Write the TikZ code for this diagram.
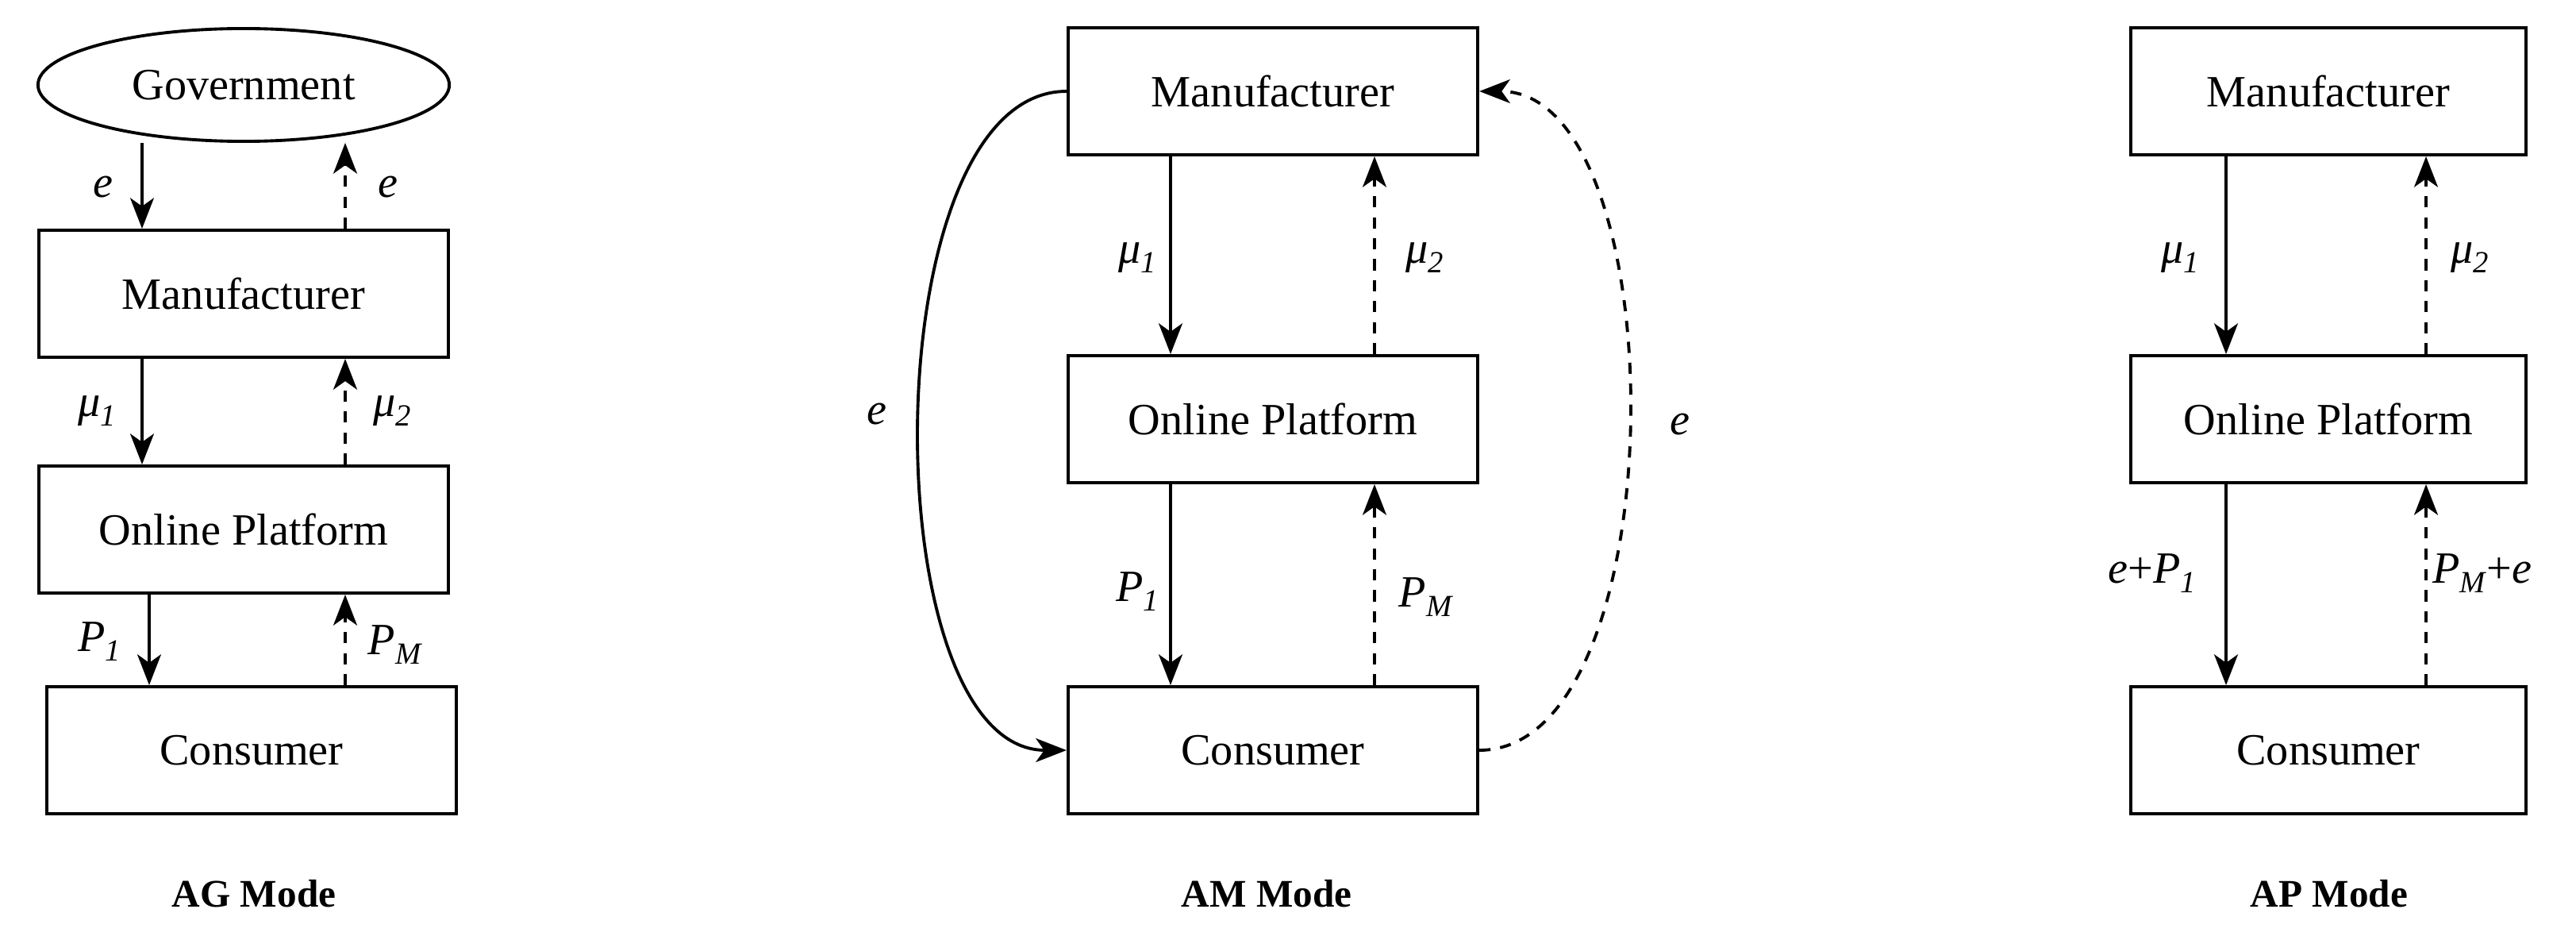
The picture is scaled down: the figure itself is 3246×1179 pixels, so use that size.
\documentclass[tikz,border=0pt]{standalone}
\usepackage{fontspec}
\setmainfont{Liberation Serif}
\usetikzlibrary{arrows.meta,shapes.geometric}
\newcommand{\lbl}[2]{\textit{#1}\raisebox{-0.45ex}{\fontsize{11}{11}\selectfont\textit{#2}}}
\begin{document}
\begin{tikzpicture}[x=0.01cm,y=-0.01cm,
  box/.style={draw,line width=1.1pt,minimum width=5.16cm,minimum height=1.6cm,inner sep=0pt,font=\fontsize{16}{18}\selectfont},
  ell/.style={draw,ellipse,line width=1.1pt,minimum width=5.18cm,minimum height=1.42cm,inner sep=0pt,font=\fontsize{16}{18}\selectfont},
  sol/.style={line width=1.1pt,-{Stealth[length=11pt,width=8.5pt,inset=3pt]}},
  dsh/.style={sol,dashed,dash pattern=on 4pt off 3.5pt},
  lab/.style={font=\fontsize{16}{18}\selectfont},
  ttl/.style={font=\fontsize{14}{16}\selectfont\bfseries}]
\useasboundingbox (0,0) rectangle (3246,1179);
% AG
\node[ell] (g) at (307,107) {Government};
\node[box] (m1) at (307,370) {Manufacturer};
\node[box] (o1) at (307,667) {Online Platform};
\node[box] (c1) at (317,945) {Consumer};
\draw[sol] (g.south -| 179,0) -- (m1.north -| 179,0);
\draw[dsh] (m1.north -| 435,0) -- (g.south -| 435,0);
\draw[sol] (m1.south -| 179,0) -- (o1.north -| 179,0);
\draw[dsh] (o1.north -| 435,0) -- (m1.south -| 435,0);
\draw[sol] (o1.south -| 188,0) -- (c1.north -| 188,0);
\draw[dsh] (c1.north -| 435,0) -- (o1.south -| 435,0);
\node[lab] (l1) at (130,236) {\textit{e}};
\node[lab] (l2) at (489,236) {\textit{e}};
\node[lab] (l3) at (122,518) {\lbl{μ}{1}};
\node[lab] (l4) at (494,518) {\lbl{μ}{2}};
\node[lab] (l5) at (125,808) {\lbl{P}{1}};
\node[lab] (l6) at (498,812) {\lbl{P}{M}};
\node[ttl] (t1) at (320,1126) {AG Mode};
% AM
\node[box] (m2) at (1604,115) {Manufacturer};
\node[box] (o2) at (1604,528) {Online Platform};
\node[box] (c2) at (1604,945) {Consumer};
\draw[sol] (m2.south -| 1475,0) -- (o2.north -| 1475,0);
\draw[dsh] (o2.north -| 1732,0) -- (m2.south -| 1732,0);
\draw[sol] (o2.south -| 1475,0) -- (c2.north -| 1475,0);
\draw[dsh] (c2.north -| 1732,0) -- (o2.south -| 1732,0);
\draw[sol] (m2.west) .. controls (1098,115) and (1098,945) .. (c2.west);
\draw[dsh] (c2.east) .. controls (2114,945) and (2114,115) .. (m2.east);
\node[lab] (l7) at (1433,325) {\lbl{μ}{1}};
\node[lab] (l8) at (1795,325) {\lbl{μ}{2}};
\node[lab] (l9) at (1433,745) {\lbl{P}{1}};
\node[lab] (l10) at (1797,752) {\lbl{P}{M}};
\node[lab] (l11) at (1105,522) {\textit{e}};
\node[lab] (l12) at (2117,535) {\textit{e}};
\node[ttl] (t2) at (1596,1126) {AM Mode};
% AP
\node[box,minimum width=4.97cm] (m3) at (2934,115) {Manufacturer};
\node[box,minimum width=4.97cm] (o3) at (2934,528) {Online Platform};
\node[box,minimum width=4.97cm] (c3) at (2934,945) {Consumer};
\draw[sol] (m3.south -| 2805,0) -- (o3.north -| 2805,0);
\draw[dsh] (o3.north -| 3057,0) -- (m3.south -| 3057,0);
\draw[sol] (o3.south -| 2805,0) -- (c3.north -| 2805,0);
\draw[dsh] (c3.north -| 3057,0) -- (o3.south -| 3057,0);
\node[lab] (l13) at (2747,325) {\lbl{μ}{1}};
\node[lab] (l14) at (3112,325) {\lbl{μ}{2}};
\node[lab] (l15) at (2712,722) {\textit{e}+\lbl{P}{1}};
\node[lab] (l16) at (3128,722) {\lbl{P}{M}+\textit{e}};
\node[ttl] (t3) at (2935,1126) {AP Mode};
\end{tikzpicture}
\end{document}
